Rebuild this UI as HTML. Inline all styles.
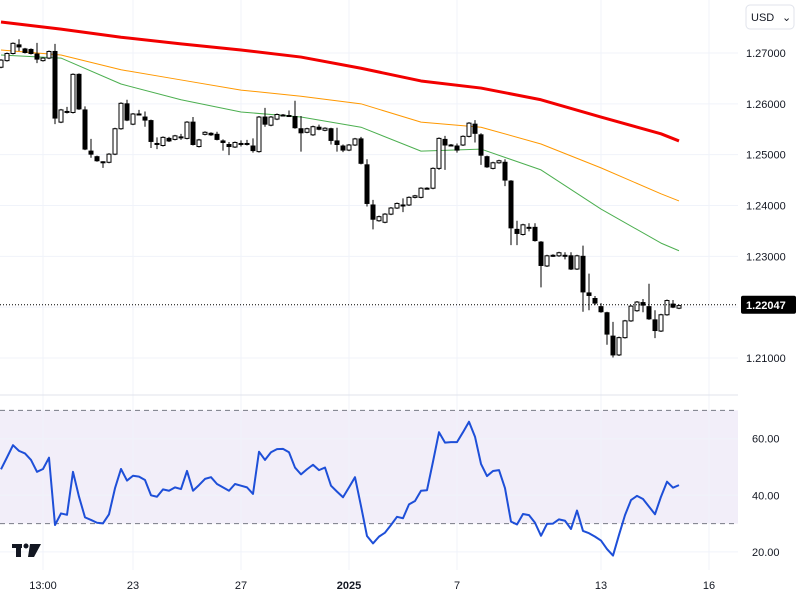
<!DOCTYPE html>
<html><head><meta charset="utf-8">
<style>
body{margin:0;background:#fff;font-family:"Liberation Sans",sans-serif;}
svg{display:block}
text{font-family:"Liberation Sans",sans-serif;font-size:11px;fill:#131722}
</style></head>
<body>
<svg id="chart" width="800" height="600" viewBox="0 0 800 600" xmlns="http://www.w3.org/2000/svg">
<g id="grid"></g>
<g id="ma"></g>
<g id="candles"></g>
<g id="rsi"></g>
<g id="axes"></g>
<g>
<rect x="746" y="5" width="48" height="24" rx="4" fill="#fff" stroke="#e0e3eb"/>
<text x="751" y="21" font-size="11">USD</text>
<text x="782" y="21" font-size="9">⌄</text>
</g>
<g>
<rect x="12" y="544" width="10" height="4" fill="#131722"/><rect x="16" y="544" width="5" height="13" fill="#131722"/>
<circle cx="26" cy="546" r="2.5" fill="#131722"/><polygon points="30,544 41,544 34,557 28,557" fill="#131722"/>
</g>
</svg>
<script>
// candle data: open, high, low, close
const opens=[1.2672,1.2685,1.2699,1.2716,1.2708,1.2707,1.2698,1.2685,1.2690,1.2703,1.2564,1.2585,1.2583,1.2658,1.2588,1.2507,1.2496,1.2486,1.2485,1.2501,1.2551,1.2600,1.2560,1.2580,1.2574,1.2567,1.2522,1.2518,1.2532,1.2530,1.2535,1.2532,1.2564,1.2516,1.2540,1.2542,1.2540,1.2527,1.2520,1.2515,1.2522,1.2522,1.2517,1.2506,1.2574,1.2558,1.2570,1.2578,1.2577,1.2575,1.2551,1.2544,1.2539,1.2554,1.2548,1.2551,1.2527,1.2517,1.2509,1.2519,1.2531,1.2480,1.2401,1.2370,1.2367,1.2383,1.2395,1.2401,1.2401,1.2416,1.2416,1.2434,1.2434,1.2473,1.2530,1.2519,1.2517,1.2519,1.2536,1.2560,1.2539,1.2496,1.2473,1.2484,1.2485,1.2448,1.2353,1.2343,1.2357,1.2357,1.2328,1.2281,1.2302,1.2301,1.2302,1.2301,1.2275,1.2300,1.2228,1.2217,1.2201,1.2189,1.2143,1.2106,1.2140,1.2173,1.2193,1.2209,1.2201,1.2175,1.2153,1.2185,1.2206,1.2198];
const closes=[1.2686,1.2699,1.2719,1.2712,1.2701,1.2699,1.2688,1.2690,1.2703,1.2572,1.2588,1.2585,1.2658,1.2590,1.2511,1.2501,1.2488,1.2486,1.2501,1.2551,1.2601,1.2568,1.2580,1.2580,1.2568,1.2526,1.2522,1.2534,1.2527,1.2537,1.2535,1.2564,1.2520,1.2529,1.2544,1.2539,1.2530,1.2524,1.2516,1.2524,1.2522,1.2522,1.2508,1.2574,1.2560,1.2574,1.2579,1.2578,1.2577,1.2553,1.2543,1.2551,1.2555,1.2550,1.2552,1.2528,1.2520,1.2509,1.2519,1.2531,1.2483,1.2404,1.2373,1.2378,1.2383,1.2395,1.2404,1.2401,1.2416,1.2419,1.2434,1.2434,1.2473,1.2532,1.2519,1.2519,1.2509,1.2536,1.2562,1.2542,1.2499,1.2476,1.2484,1.2488,1.2450,1.2356,1.2345,1.2362,1.2357,1.2331,1.2282,1.2301,1.2302,1.2307,1.2302,1.2275,1.2301,1.2230,1.2223,1.2208,1.2191,1.2147,1.2106,1.2140,1.2173,1.2202,1.2210,1.2204,1.2177,1.2154,1.2185,1.2213,1.2200,1.2203];
const highs=[1.2688,1.2701,1.2721,1.2727,1.2710,1.2709,1.2720,1.2692,1.2705,1.2718,1.2590,1.2594,1.2660,1.2660,1.2595,1.2531,1.2498,1.2487,1.2503,1.2553,1.2603,1.2608,1.2582,1.2588,1.2585,1.2569,1.2534,1.2536,1.2535,1.2539,1.2541,1.2566,1.2574,1.2531,1.2546,1.2544,1.2545,1.2530,1.2525,1.2526,1.2528,1.2529,1.2532,1.2576,1.2592,1.2576,1.2581,1.2580,1.2587,1.2606,1.2576,1.2553,1.2557,1.2559,1.2554,1.2553,1.2553,1.2520,1.2521,1.2533,1.2535,1.2491,1.2411,1.2380,1.2385,1.2397,1.2406,1.2414,1.2418,1.2421,1.2436,1.2436,1.2475,1.2534,1.2537,1.2521,1.2522,1.2538,1.2564,1.2568,1.2542,1.2498,1.2486,1.2490,1.2491,1.2450,1.2370,1.2364,1.2365,1.2365,1.2330,1.2303,1.2304,1.2309,1.2308,1.2308,1.2303,1.2321,1.2266,1.2222,1.2208,1.2191,1.2171,1.2142,1.2175,1.2204,1.2212,1.2216,1.2246,1.2194,1.2187,1.2215,1.2214,1.2205];
const lows=[1.2670,1.2683,1.2697,1.2704,1.2699,1.2697,1.2680,1.2683,1.2688,1.2560,1.2562,1.2581,1.2581,1.2588,1.2509,1.2494,1.2486,1.2474,1.2483,1.2499,1.2549,1.2566,1.2558,1.2577,1.2555,1.2513,1.2511,1.2516,1.2525,1.2528,1.2529,1.2530,1.2518,1.2514,1.2538,1.2537,1.2528,1.2508,1.2499,1.2513,1.2516,1.2518,1.2504,1.2504,1.2555,1.2556,1.2568,1.2575,1.2574,1.2551,1.2506,1.2542,1.2537,1.2548,1.2546,1.2520,1.2506,1.2505,1.2507,1.2517,1.2481,1.2398,1.2353,1.2368,1.2365,1.2381,1.2393,1.2387,1.2399,1.2414,1.2414,1.2432,1.2432,1.2470,1.2470,1.2517,1.2504,1.2517,1.2534,1.2524,1.2480,1.2474,1.2471,1.2482,1.2438,1.2322,1.2322,1.2341,1.2349,1.2329,1.2239,1.2279,1.2299,1.2299,1.2294,1.2273,1.2273,1.2191,1.2194,1.2204,1.2189,1.2126,1.2101,1.2104,1.2138,1.2171,1.2191,1.2190,1.2175,1.2139,1.2151,1.2183,1.2198,1.2196];
// moving averages sampled at candle indices
const maIdx=[0,10,20,30,40,50,60,70,80,90,100,110,113];
const maRed=[1.2761,1.2747,1.2731,1.2718,1.2706,1.2692,1.2670,1.2645,1.2631,1.2608,1.2574,1.2541,1.2527];
const maOrange=[1.2706,1.2696,1.2667,1.2647,1.2627,1.2615,1.2600,1.2564,1.2554,1.2521,1.2474,1.2423,1.2409];
const maGreen=[1.2696,1.2690,1.2639,1.2608,1.2584,1.2574,1.2554,1.2507,1.2511,1.2470,1.2393,1.2326,1.2311];
const rsiVals=[49.2,53.4,57.7,55.7,54.8,52.5,48.3,49.3,53.3,29.5,33.6,33.1,48.3,39.5,32.2,31.3,30.3,30.1,33.3,42.5,49.3,45.2,46.9,46.6,45.4,40.0,39.5,42.1,41.6,42.8,42.2,48.6,41.6,43.6,45.8,46.4,44.0,42.8,41.6,44.0,43.4,42.8,40.5,55.4,52.5,55.2,56.3,56.4,55.2,49.8,47.4,49.2,50.8,48.9,49.8,43.4,41.3,39.3,42.8,46.4,36.2,25.6,23.0,25.4,26.8,29.5,32.4,31.9,36.8,38.0,41.6,41.8,51.9,62.3,58.6,58.8,58.8,62.3,66.0,60.7,51.1,46.8,48.6,48.9,42.5,30.7,29.7,33.4,33.0,30.3,25.7,29.9,30.0,31.5,31.0,28.1,34.6,27.4,26.6,25.4,24.0,21.0,18.7,26.0,33.0,38.3,39.8,38.7,36.0,33.3,39.5,44.8,42.7,43.6];
const priceTicks=[1.27,1.26,1.25,1.24,1.23,1.21];
const rsiTicks=[60,40,20];
const timeLabels=["13:00","23","27","2025","7","13","16"];
const timeLabelIdx=[7,22,40,58,76,100,118];
const lastPrice=1.22047;

const NS="http://www.w3.org/2000/svg";
const PW=738;
const xS=i=>1+6*i;
const yP=p=>53+(1.27-p)*5083;
const yR=v=>438.7+(60-v)*2.83;
function mk(tag,attrs,parent){const e=document.createElementNS(NS,tag);for(const k in attrs)e.setAttribute(k,attrs[k]);parent.appendChild(e);return e;}
const grid=document.getElementById('grid'),axes=document.getElementById('axes');
// rsi band
const band=mk('rect',{x:0,y:yR(70),width:PW,height:yR(30)-yR(70),fill:'#7e57c2','fill-opacity':0.1},grid);


[70,30].forEach(v=>{const l=mk('line',{x1:0,x2:PW,y1:yR(v),y2:yR(v),stroke:'#787b86','stroke-dasharray':'5,4'},grid);

});
priceTicks.forEach(p=>{const l=mk('line',{x1:0,x2:PW,y1:yP(p),y2:yP(p),stroke:'#f0f3fa'},grid);


const t=mk('text',{x:746,y:yP(p)+4},axes);t.textContent=p.toFixed(5);

});
mk('line',{x1:0,x2:PW,y1:yP(1.22),y2:yP(1.22),stroke:'#f0f3fa'},grid);
rsiTicks.forEach(v=>{const l=mk('line',{x1:0,x2:PW,y1:yR(v),y2:yR(v),stroke:'#f0f3fa'},grid);


const t=mk('text',{x:752,y:yR(v)+4},axes);t.textContent=v.toFixed(2);

});
timeLabels.forEach((s,k)=>{const x=xS(timeLabelIdx[k]);
const l=mk('line',{x1:x,x2:x,y1:0,y2:570,stroke:'#f0f3fa'},grid);


const t=mk('text',{x:x,y:589,'text-anchor':'middle','font-weight':s==='2025'?'bold':'normal'},axes);t.textContent=s;

});
mk('line',{x1:0,x2:PW,y1:395,y2:395,stroke:'#e0e3eb'},grid);
// MAs
const maG=document.getElementById('ma');
[[maGreen,'#4caf50',1],[maOrange,'#ff9800',1],[maRed,'#f20000',3]].forEach(([arr,c,w],k)=>{
const d=arr.map((p,j)=>(j?'L':'M')+xS(maIdx[j])+','+yP(p)).join(' ');
const e=mk('path',{d:d,fill:'none',stroke:c,'stroke-width':w,'stroke-linejoin':'round'},maG);

});
// candles
const cg=document.getElementById('candles');
opens.forEach((o,i)=>{const c=closes[i],x=xS(i);
const w=mk('line',{x1:x,x2:x,y1:yP(highs[i]),y2:yP(lows[i]),stroke:'#000','stroke-width':1},cg);


const top=yP(Math.max(o,c)),bot=yP(Math.min(o,c));
const up=c>=o;
const r=mk('rect',{x:x-2,y:top,width:4,height:Math.max(1,bot-top),fill:up?'#fff':'#000',stroke:'#000','stroke-width':1},cg);

});
// last price
const yl=yP(lastPrice);
const dl=mk('line',{x1:0,x2:PW,y1:yl,y2:yl,stroke:'#000','stroke-dasharray':'1,2'},axes);


const lb=mk('rect',{x:741,y:yl-9,width:55,height:18,rx:2,fill:'#000'},axes);


const lt=mk('text',{x:746,y:yl+4,fill:'#fff','font-weight':'bold'},axes);lt.textContent=lastPrice.toFixed(5);lt.style.fill='#fff';


// RSI line
const rd=rsiVals.map((v,i)=>(i?'L':'M')+xS(i)+','+yR(v)).join(' ');
const rl=mk('path',{d:rd,fill:'none',stroke:'#1e4fd8','stroke-width':2,'stroke-linejoin':'round'},document.getElementById('rsi'));


</script>
</body></html>
